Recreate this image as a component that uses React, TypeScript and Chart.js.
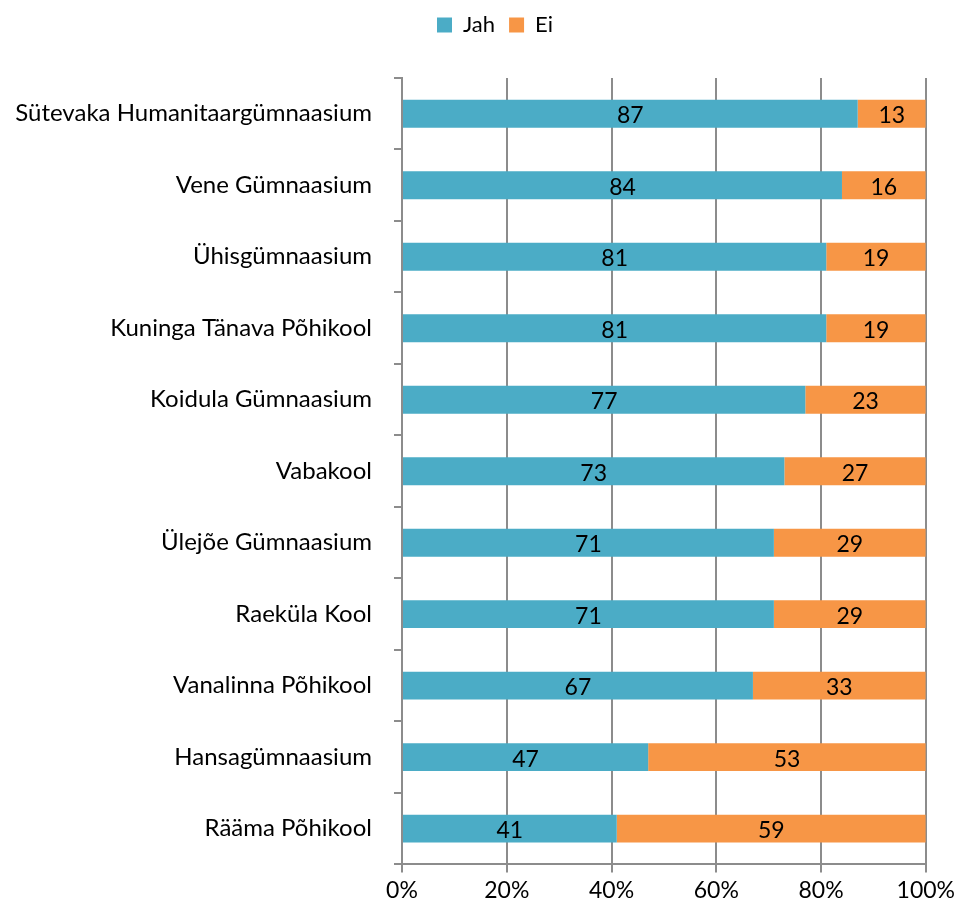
import React, { useEffect, useRef } from "react";
import { Chart, registerables } from "chart.js";

Chart.register(...registerables);

const categories = [
  "Sütevaka Humanitaargümnaasium",
  "Vene Gümnaasium",
  "Ühisgümnaasium",
  "Kuninga Tänava Põhikool",
  "Koidula Gümnaasium",
  "Vabakool",
  "Ülejõe Gümnaasium",
  "Raeküla Kool",
  "Vanalinna Põhikool",
  "Hansagümnaasium",
  "Rääma Põhikool",
];
const jahValues = [87, 84, 81, 81, 77, 73, 71, 71, 67, 47, 41];
const eiValues = [13, 16, 19, 19, 23, 27, 29, 29, 33, 53, 59];
const seriesNames = ["Jah", "Ei"];
const xTicks = [0, 20, 40, 60, 80, 100];

const FONT = "Lato, 'Open Sans', sans-serif";

const valueLabels = {
  id: "valueLabels",
  afterDatasetsDraw(chart: any) {
    const ctx = chart.ctx;
    ctx.save();
    ctx.fillStyle = "#000";
    ctx.font = `23px ${FONT}`;
    ctx.textAlign = "center";
    ctx.textBaseline = "middle";
    chart.data.datasets.forEach((ds: any, di: number) => {
      const meta = chart.getDatasetMeta(di);
      meta.data.forEach((bar: any, i: number) => {
        const left = Math.min(bar.x, bar.base);
        const right = Math.max(bar.x, bar.base);
        ctx.fillText(String(ds.data[i]), (left + right) / 2, bar.y + 2);
      });
    });
    ctx.restore();
  },
};

const legendTweak = {
  id: "legendTweak",
  beforeInit(chart: any) {
    const legend = chart.legend;
    if (legend) {
      const origFit = legend.fit;
      legend.fit = function () {
        origFit.call(this);
        this.height += 32;
      };
    }
  },
  afterLayout(chart: any) {
    const legend = chart.legend;
    if (legend) {
      legend.left += 28;
      legend.right += 28;
    }
  },
};

export default function App() {
  const ref = useRef<HTMLCanvasElement>(null);
  useEffect(() => {
    document.body.style.margin = "0";
    const chart = new Chart(ref.current!, {
      type: "bar",
      data: {
        labels: categories,
        datasets: [
          {
            label: seriesNames[0],
            data: jahValues,
            backgroundColor: "#4BACC6",
            barPercentage: 0.78,
            categoryPercentage: 0.5,
          },
          {
            label: seriesNames[1],
            data: eiValues,
            backgroundColor: "#F79646",
            barPercentage: 0.78,
            categoryPercentage: 0.5,
          },
        ],
      },
      options: {
        indexAxis: "y",
        responsive: false,
        animation: false,
        layout: { padding: { left: 8, right: 33, top: 0, bottom: 4 } },
        plugins: {
          legend: {
            position: "top",
            labels: {
              boxWidth: 15,
              boxHeight: 15,
              color: "#000",
              font: { family: FONT, size: 22 },
              padding: 14,
            },
          },
          tooltip: { enabled: false },
        },
        scales: {
          x: {
            stacked: true,
            min: 0,
            max: 100,
            afterBuildTicks: (axis: any) => {
              axis.ticks = xTicks.map((v) => ({ value: v }));
            },
            ticks: {
              color: "#000",
              font: { family: FONT, size: 23 },
              padding: 4,
              callback: (v: any) => v + "%",
            },
            grid: { color: "#8c8c8c", lineWidth: 2, tickLength: 8 },
            border: { color: "#8c8c8c", width: 2 },
          },
          y: {
            stacked: true,
            afterFit: (axis: any) => {
              axis.width = 394;
            },
            ticks: {
              color: "#000",
              font: { family: FONT, size: 24 },
              padding: 22,
            },
            grid: {
              offset: true,
              drawOnChartArea: false,
              color: "#8c8c8c",
              lineWidth: 2,
              tickLength: 8,
            },
            border: { color: "#8c8c8c", width: 2 },
          },
        },
      },
      plugins: [valueLabels, legendTweak],
    });
    return () => chart.destroy();
  }, []);
  return <canvas ref={ref} width={959} height={912} style={{ display: "block" }} />;
}
